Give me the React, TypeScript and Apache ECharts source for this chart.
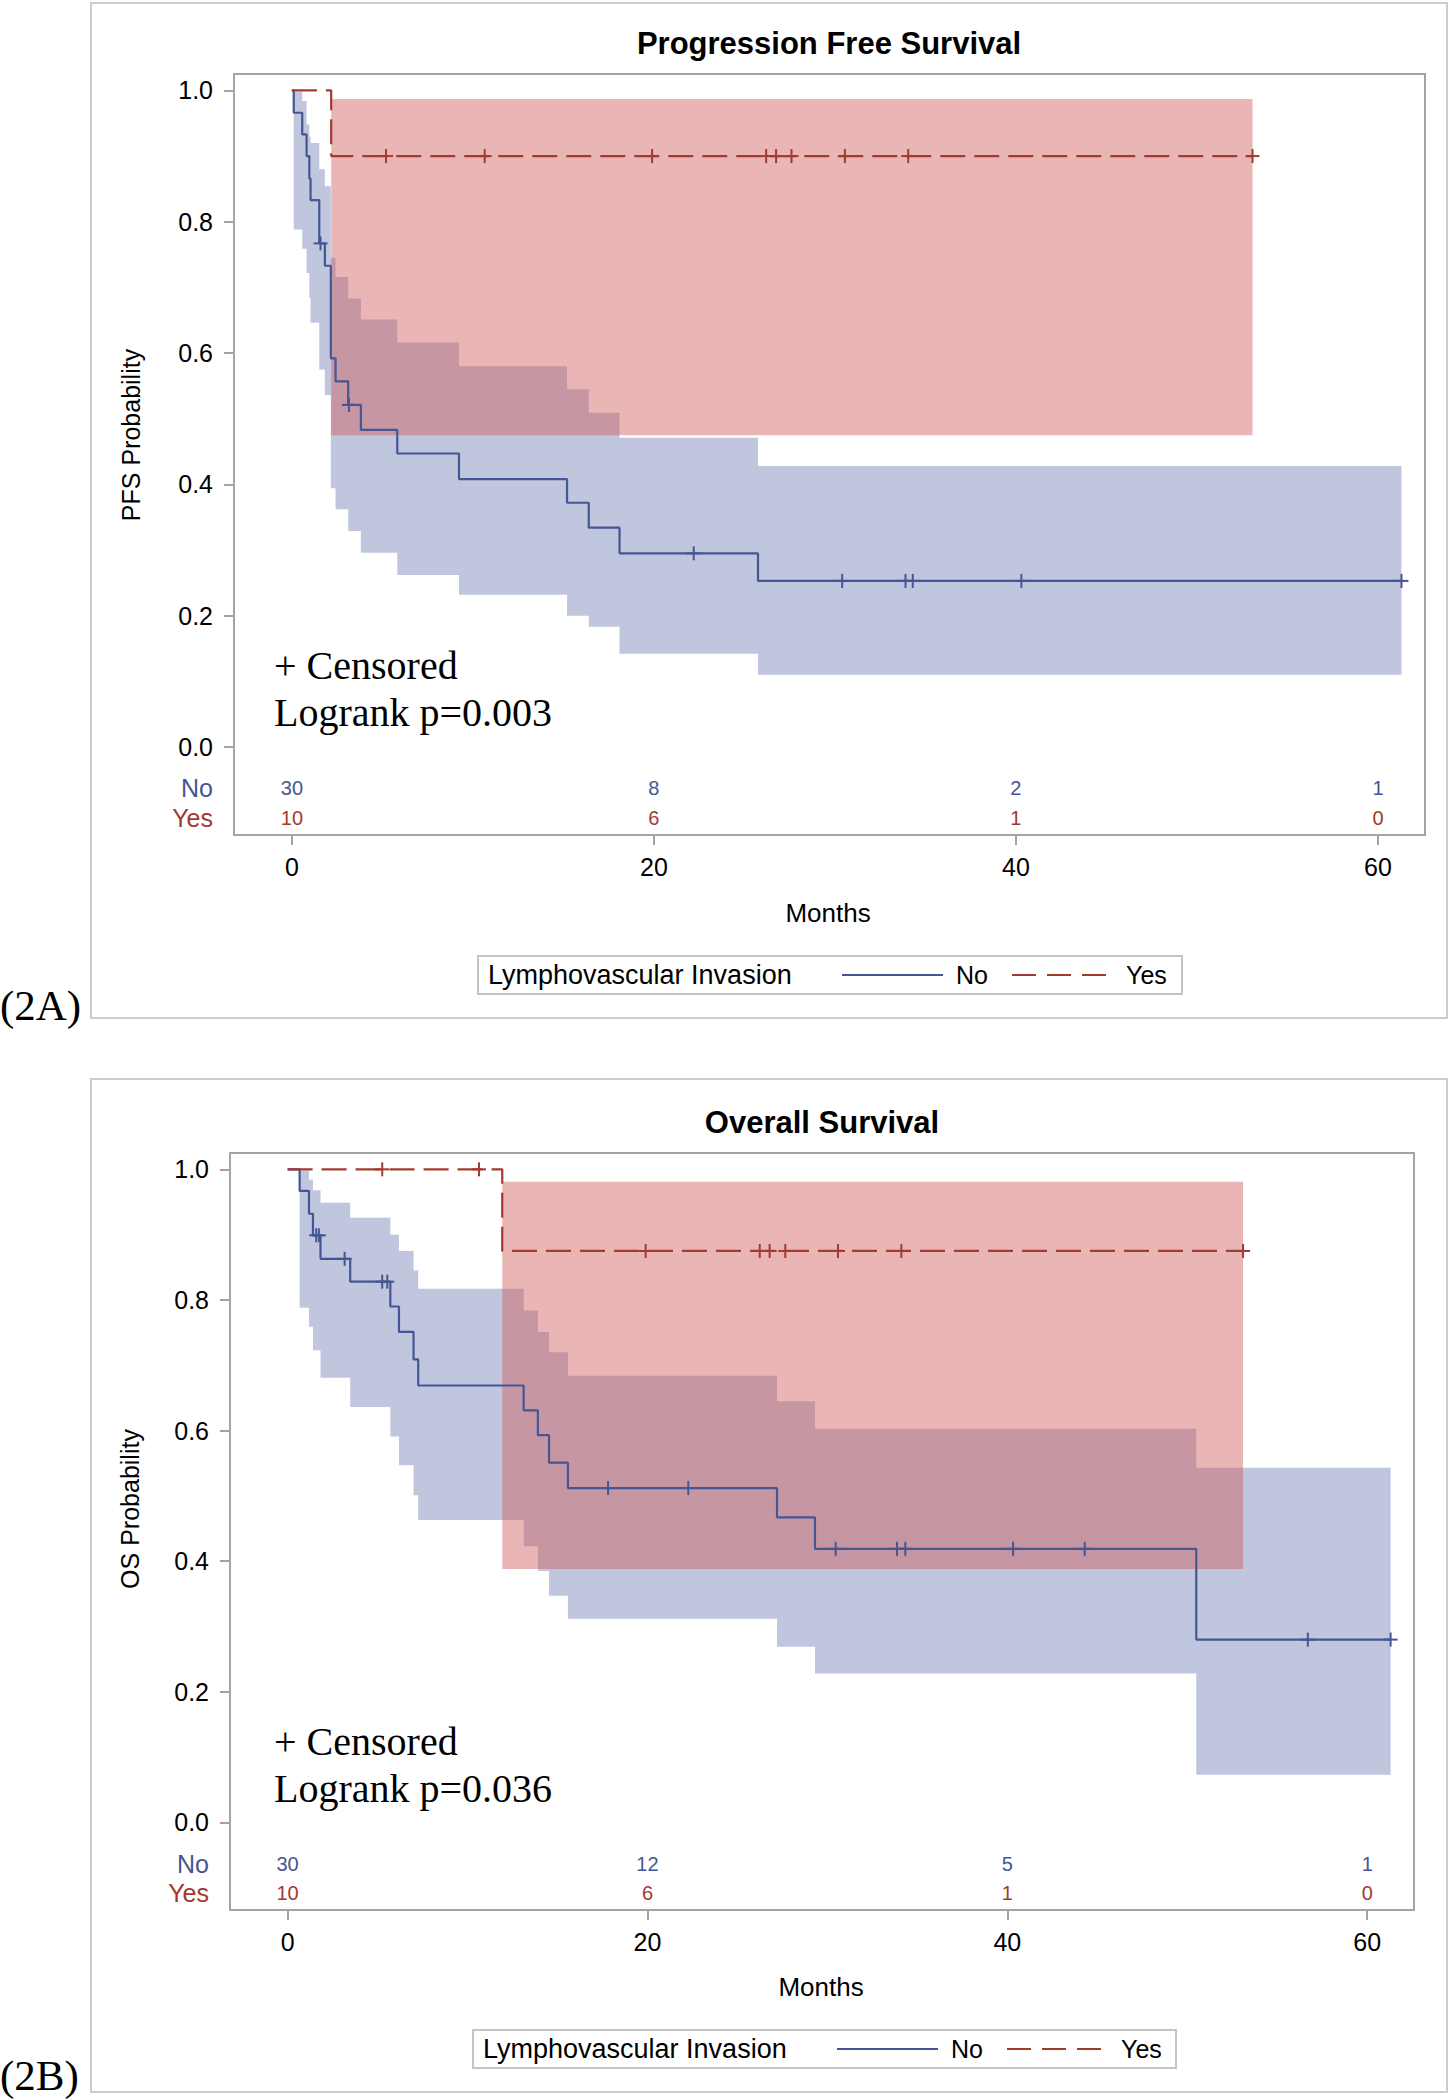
import React, { useEffect, useRef } from "react";
import * as echarts from "echarts";

// ---------- shared axis values ----------
const monthTicks = [0, 20, 40, 60];
const probTicks = [0, 0.2, 0.4, 0.6, 0.8, 1.0];
const groupNames = ["No", "Yes"];

// ---------- (2A) Progression Free Survival ----------
const pfsNoTimes = [0, 0.1, 0.57, 0.81, 0.96, 1.03, 1.51, 1.82, 2.15, 2.41, 3.11, 3.81, 5.82, 9.23, 15.2, 16.4, 18.1, 25.75, 61.3];
const pfsNoSurv = [1, 0.966, 0.933, 0.9, 0.866, 0.833, 0.767, 0.733, 0.592, 0.557, 0.521, 0.483, 0.447, 0.408, 0.372, 0.334, 0.295, 0.253, 0.253];
const pfsNoLower = [1, 0.788, 0.759, 0.722, 0.684, 0.646, 0.575, 0.536, 0.394, 0.362, 0.329, 0.296, 0.262, 0.232, 0.2, 0.183, 0.142, 0.11, 0.11];
const pfsNoUpper = [1, 0.998, 0.984, 0.948, 0.93, 0.92, 0.88, 0.854, 0.745, 0.716, 0.683, 0.651, 0.616, 0.58, 0.545, 0.509, 0.471, 0.428, 0.428];
const pfsNoCensored = [1.58, 3.15, 22.2, 30.4, 33.9, 34.3, 40.3, 61.3];

const pfsYesTimes = [0, 2.17, 53.07];
const pfsYesSurv = [1, 0.9, 0.9];
const pfsYesLower = [1, 0.475, 0.475];
const pfsYesUpper = [1, 0.987, 0.987];
const pfsYesCensored = [5.2, 10.65, 19.9, 26.2, 26.75, 27.6, 30.55, 34.05, 53.07];

const pfsAtRiskNo = [30, 8, 2, 1];
const pfsAtRiskYes = [10, 6, 1, 0];

// ---------- (2B) Overall Survival ----------
const osNoTimes = [0, 0.67, 1.19, 1.41, 1.83, 3.48, 5.71, 6.19, 7.0, 7.26, 13.12, 13.91, 14.53, 15.58, 27.2, 29.31, 50.5, 61.3];
const osNoSurv = [1, 0.967, 0.932, 0.899, 0.863, 0.828, 0.79, 0.751, 0.709, 0.669, 0.631, 0.593, 0.551, 0.512, 0.467, 0.419, 0.28, 0.28];
const osNoLower = [1, 0.788, 0.759, 0.723, 0.681, 0.636, 0.591, 0.547, 0.501, 0.463, 0.423, 0.385, 0.347, 0.312, 0.269, 0.228, 0.073, 0.073];
const osNoUpper = [1, 0.998, 0.984, 0.968, 0.949, 0.926, 0.9, 0.875, 0.845, 0.817, 0.784, 0.751, 0.72, 0.684, 0.645, 0.603, 0.543, 0.543];
const osNoCensored = [1.59, 1.74, 3.17, 5.26, 5.54, 17.81, 22.27, 30.46, 33.87, 34.33, 40.32, 44.3, 56.7, 61.3];

const osYesTimes = [0, 11.93, 53.1];
const osYesSurv = [1, 0.875, 0.875];
const osYesLower = [1, 0.388, 0.388];
const osYesUpper = [1, 0.981, 0.981];
const osYesCensored = [5.26, 10.64, 19.9, 26.24, 26.79, 27.66, 30.59, 34.11, 53.1];

const osAtRiskNo = [30, 12, 5, 1];
const osAtRiskYes = [10, 6, 1, 0];

// ---------- styles / layout ----------
const BLUE = "#445694";
const RED = "#A23A2E";
const BLUE_FILL = "rgba(111,126,179,0.44)";
const RED_FILL = "rgba(208,91,91,0.45)";
const FRAME = "#a3a3a3";
const OUTER = "#cccccc";
const SANS = "'Liberation Sans', Arial, sans-serif";
const SERIF = "'Liberation Serif', 'Times New Roman', serif";
const X_MIN = -3.2;
const X_MAX = 62.6;
const Y_MIN = -0.134;
const Y_MAX = 1.025;
const ROW_Y = [-0.063, -0.108];

type Curve = { times: number[]; surv: number[]; lower: number[]; upper: number[]; censored: number[] };

const panels = [
  {
    title: "Progression Free Survival",
    yName: "PFS Probability",
    pText: "Logrank p=0.003",
    tag: "(2A)",
    no: { times: pfsNoTimes, surv: pfsNoSurv, lower: pfsNoLower, upper: pfsNoUpper, censored: pfsNoCensored } as Curve,
    yes: { times: pfsYesTimes, surv: pfsYesSurv, lower: pfsYesLower, upper: pfsYesUpper, censored: pfsYesCensored } as Curve,
    atRisk: [pfsAtRiskNo, pfsAtRiskYes],
    grid: { left: 234, top: 74, width: 1191, height: 761 },
    frame: [91, 3, 1356, 1015],
    titleXY: [829, 43],
    monthsXY: [828, 913],
    yNameXY: [131, 435],
    censXY: [274, 665],
    logXY: [274, 712],
    tagXY: [0, 1005],
    legend: { box: [478, 956, 704, 38], textX: 488, lineNo: [842, 943], noX: 956, lineYes: [1012, 1106], yesX: 1126, cy: 975 },
  },
  {
    title: "Overall Survival",
    yName: "OS Probability",
    pText: "Logrank p=0.036",
    tag: "(2B)",
    no: { times: osNoTimes, surv: osNoSurv, lower: osNoLower, upper: osNoUpper, censored: osNoCensored } as Curve,
    yes: { times: osYesTimes, surv: osYesSurv, lower: osYesLower, upper: osYesUpper, censored: osYesCensored } as Curve,
    atRisk: [osAtRiskNo, osAtRiskYes],
    grid: { left: 230, top: 1153, width: 1184, height: 757 },
    frame: [91, 1079, 1356, 1013],
    titleXY: [822, 1122],
    monthsXY: [821, 1987],
    yNameXY: [130, 1509],
    censXY: [274, 1741],
    logXY: [274, 1788],
    tagXY: [0, 2075],
    legend: { box: [473, 2030, 703, 38], textX: 483, lineNo: [837, 938], noX: 951, lineYes: [1007, 1101], yesX: 1121, cy: 2049 },
  },
];

function survAt(c: Curve, t: number) {
  let s = c.surv[0];
  for (let i = 0; i < c.times.length; i++) if (c.times[i] <= t) s = c.surv[i];
  return s;
}

function bandSeries(c: Curve, fill: string, idx: number) {
  return {
    type: "custom",
    coordinateSystem: "cartesian2d",
    xAxisIndex: idx,
    yAxisIndex: idx,
    silent: true,
    data: c.times.map((t, i) => [t, c.lower[i], c.upper[i]]),
    renderItem: (params: any, api: any) => {
      if (params.dataIndex !== 0) return null;
      const n = c.times.length;
      const pts: number[][] = [];
      for (let i = 0; i < n - 1; i++) {
        pts.push(api.coord([c.times[i], c.upper[i]]));
        pts.push(api.coord([c.times[i + 1], c.upper[i]]));
      }
      for (let i = n - 2; i >= 0; i--) {
        pts.push(api.coord([c.times[i + 1], c.lower[i]]));
        pts.push(api.coord([c.times[i], c.lower[i]]));
      }
      return { type: "polygon", shape: { points: pts }, style: { fill, stroke: null } };
    },
  };
}

function lineSeries(c: Curve, color: string, dashed: boolean, idx: number, name: string) {
  return {
    type: "line",
    name,
    xAxisIndex: idx,
    yAxisIndex: idx,
    step: "end",
    symbol: "none",
    silent: true,
    data: c.times.map((t, i) => [t, c.surv[i]]),
    lineStyle: { color, width: 2.2, type: dashed ? [25, 9] : "solid" },
  };
}

function censorSeries(c: Curve, color: string, idx: number) {
  return {
    type: "custom",
    coordinateSystem: "cartesian2d",
    xAxisIndex: idx,
    yAxisIndex: idx,
    silent: true,
    data: c.censored.map((t) => [t, survAt(c, t)]),
    renderItem: (params: any, api: any) => {
      const p = api.coord([api.value(0), api.value(1)]);
      const h = 7;
      return {
        type: "group",
        children: [
          { type: "line", shape: { x1: p[0] - h, y1: p[1], x2: p[0] + h, y2: p[1] }, style: { stroke: color, lineWidth: 2 } },
          { type: "line", shape: { x1: p[0], y1: p[1] - h, x2: p[0], y2: p[1] + h }, style: { stroke: color, lineWidth: 2 } },
        ],
      };
    },
  };
}

function atRiskSeries(counts: number[], rowY: number, color: string, idx: number) {
  return {
    type: "custom",
    coordinateSystem: "cartesian2d",
    xAxisIndex: idx,
    yAxisIndex: idx,
    silent: true,
    data: monthTicks.map((m, i) => [m, rowY, counts[i]]),
    renderItem: (params: any, api: any) => {
      const p = api.coord([api.value(0), api.value(1)]);
      return {
        type: "text",
        x: p[0],
        y: p[1],
        style: { text: String(api.value(2)), fill: color, fontSize: 20, fontFamily: SANS, align: "center", verticalAlign: "middle" },
      };
    },
  };
}

function rowLabelSeries(idx: number) {
  return {
    type: "custom",
    coordinateSystem: "cartesian2d",
    xAxisIndex: idx,
    yAxisIndex: idx,
    silent: true,
    data: groupNames.map((g, i) => [X_MIN, ROW_Y[i], i]),
    renderItem: (params: any, api: any) => {
      const p = api.coord([api.value(0), api.value(1)]);
      const i = api.value(2);
      return {
        type: "text",
        x: p[0] - 21,
        y: p[1],
        style: { text: groupNames[i], fill: i === 0 ? BLUE : RED, fontSize: 25, fontFamily: SANS, align: "right", verticalAlign: "middle" },
      };
    },
  };
}

function txt(x: number, y: number, text: string, extra: any = {}, rotation = 0) {
  return {
    type: "text",
    x,
    y,
    rotation,
    silent: true,
    style: { text, fill: "#000", fontSize: 25, fontFamily: SANS, align: "center", verticalAlign: "middle", ...extra },
  };
}

function buildOption() {
  const grids: any[] = [];
  const xAxes: any[] = [];
  const yAxes: any[] = [];
  const series: any[] = [];
  const graphic: any[] = [];

  panels.forEach((p, idx) => {
    grids.push({ ...p.grid, show: true, borderColor: FRAME, borderWidth: 2, backgroundColor: "transparent", containLabel: false });
    xAxes.push({
      type: "value",
      gridIndex: idx,
      min: X_MIN,
      max: X_MAX,
      axisLine: { show: true, onZero: false, lineStyle: { color: FRAME, width: 2 } },
      axisTick: { show: true, length: 10, customValues: monthTicks, lineStyle: { color: FRAME, width: 2 } },
      axisLabel: { customValues: monthTicks, margin: 19, fontSize: 25, color: "#000", fontFamily: SANS },
      splitLine: { show: false },
    });
    yAxes.push({
      type: "value",
      gridIndex: idx,
      min: Y_MIN,
      max: Y_MAX,
      axisLine: { show: true, onZero: false, lineStyle: { color: FRAME, width: 2 } },
      axisTick: { show: true, length: 10, customValues: probTicks, lineStyle: { color: FRAME, width: 2 } },
      axisLabel: { customValues: probTicks, formatter: (v: number) => v.toFixed(1), margin: 21, fontSize: 25, color: "#000", fontFamily: SANS },
      splitLine: { show: false },
    });

    series.push(bandSeries(p.no, BLUE_FILL, idx));
    series.push(bandSeries(p.yes, RED_FILL, idx));
    series.push(lineSeries(p.no, BLUE, false, idx, "No"));
    series.push(lineSeries(p.yes, RED, true, idx, "Yes"));
    series.push(censorSeries(p.no, BLUE, idx));
    series.push(censorSeries(p.yes, RED, idx));
    series.push(atRiskSeries(p.atRisk[0], ROW_Y[0], BLUE, idx));
    series.push(atRiskSeries(p.atRisk[1], ROW_Y[1], RED, idx));
    series.push(rowLabelSeries(idx));

    const [fx, fy, fw, fh] = p.frame;
    graphic.push({ type: "rect", silent: true, z: -10, shape: { x: fx, y: fy, width: fw, height: fh }, style: { fill: "none", stroke: OUTER, lineWidth: 2 } });
    graphic.push(txt(p.titleXY[0], p.titleXY[1], p.title, { fontWeight: "bold", fontSize: 31 }));
    graphic.push(txt(p.monthsXY[0], p.monthsXY[1], "Months", { fontSize: 26 }));
    graphic.push(txt(p.yNameXY[0], p.yNameXY[1], p.yName, { fontSize: 25 }, Math.PI / 2));
    graphic.push(txt(p.censXY[0], p.censXY[1], "+ Censored", { fontFamily: SERIF, fontSize: 40, align: "left" }));
    graphic.push(txt(p.logXY[0], p.logXY[1], p.pText, { fontFamily: SERIF, fontSize: 40, align: "left" }));
    graphic.push(txt(p.tagXY[0], p.tagXY[1], p.tag, { fontFamily: SERIF, fontSize: 43, align: "left" }));

    const L = p.legend;
    graphic.push({ type: "rect", silent: true, shape: { x: L.box[0], y: L.box[1], width: L.box[2], height: L.box[3] }, style: { fill: "#fff", stroke: "#c4c4c4", lineWidth: 2 } });
    graphic.push(txt(L.textX, L.cy, "Lymphovascular Invasion", { fontSize: 27, align: "left" }));
    graphic.push({ type: "line", silent: true, shape: { x1: L.lineNo[0], y1: L.cy, x2: L.lineNo[1], y2: L.cy }, style: { stroke: BLUE, lineWidth: 2 } });
    graphic.push(txt(L.noX, L.cy, groupNames[0], { fontSize: 25, align: "left" }));
    graphic.push({ type: "line", silent: true, shape: { x1: L.lineYes[0], y1: L.cy, x2: L.lineYes[1], y2: L.cy }, style: { stroke: RED, lineWidth: 2, lineDash: [24, 11] } });
    graphic.push(txt(L.yesX, L.cy, groupNames[1], { fontSize: 25, align: "left" }));
  });

  return {
    animation: false,
    backgroundColor: "#fff",
    grid: grids,
    xAxis: xAxes,
    yAxis: yAxes,
    series,
    graphic,
  };
}

export default function App() {
  const ref = useRef<HTMLDivElement>(null);
  useEffect(() => {
    const chart = echarts.init(ref.current as HTMLDivElement, null, { renderer: "svg", width: 1450, height: 2100 });
    chart.setOption(buildOption() as any);
    return () => chart.dispose();
  }, []);
  return <div ref={ref} style={{ position: "absolute", left: 0, top: 0, width: 1450, height: 2100, background: "#fff" }} />;
}
